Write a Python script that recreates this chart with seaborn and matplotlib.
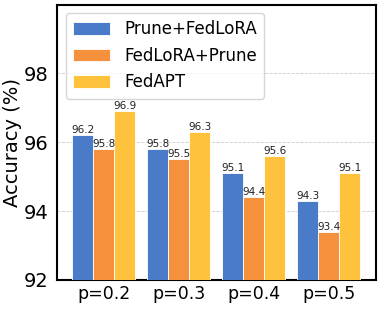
"""Accuracy of pruning/FedLoRA orderings vs FedAPT across pruning ratios."""

import matplotlib
matplotlib.use("Agg")
import matplotlib.pyplot as plt
import pandas as pd
import seaborn as sns

RATIOS = ["p=0.2", "p=0.3", "p=0.4", "p=0.5"]
METHODS = ["Prune+FedLoRA", "FedLoRA+Prune", "FedAPT"]
PRUNE_FEDLORA = [96.2, 95.8, 95.1, 94.3]
FEDLORA_PRUNE = [95.8, 95.5, 94.4, 93.4]
FEDAPT = [96.9, 96.3, 95.6, 95.1]
COLORS = ["#4a7bc8", "#f5913d", "#ffc23c"]


def build_frame() -> pd.DataFrame:
    rows = []
    for method, vals in zip(METHODS, [PRUNE_FEDLORA, FEDLORA_PRUNE, FEDAPT]):
        for ratio, v in zip(RATIOS, vals):
            rows.append({"ratio": ratio, "method": method, "acc": v})
    return pd.DataFrame(rows)


def main() -> None:
    sns.set_style("white")
    plt.rcParams["font.family"] = ["DejaVu Sans"]
    plt.rcParams["text.color"] = "black"
    plt.rcParams["axes.labelcolor"] = "black"
    plt.rcParams["xtick.color"] = "black"
    plt.rcParams["ytick.color"] = "black"
    df = build_frame()

    fig, ax = plt.subplots(figsize=(3.83, 3.11), dpi=100)
    sns.barplot(data=df, x="ratio", y="acc", hue="method", order=RATIOS,
                hue_order=METHODS, palette=COLORS, saturation=1, width=0.84,
                gap=0, edgecolor="white", linewidth=0.6, ax=ax, zorder=3)
    for cont in ax.containers:
        ax.bar_label(cont, fmt="%.1f", fontsize=7.5, padding=0, color="#222222")

    ax.set_ylim(92, 100)
    ax.set_yticks([92, 94, 96, 98])
    ax.set_xlim(-0.62, 3.63)
    ax.yaxis.grid(True, linestyle="--", color="#cccccc", linewidth=0.6, zorder=0)
    ax.set_axisbelow(True)
    ax.set_xlabel("")
    ax.set_ylabel("Accuracy (%)", fontsize=14, labelpad=1)
    ax.tick_params(axis="y", labelsize=14, length=3, width=1)
    ax.tick_params(axis="x", labelsize=12.5, length=0)
    for sp in ax.spines.values():
        sp.set_color("black")
        sp.set_linewidth(1.5)

    ax.legend(loc="upper left", fontsize=12, frameon=True, handlelength=2.2,
              handleheight=0.8, borderpad=0.45, labelspacing=0.5,
              handletextpad=0.85)

    fig.subplots_adjust(left=0.15, right=0.982, top=0.985, bottom=0.1)
    fig.savefig("out.png", dpi=100)
    plt.close(fig)


if __name__ == "__main__":
    main()
